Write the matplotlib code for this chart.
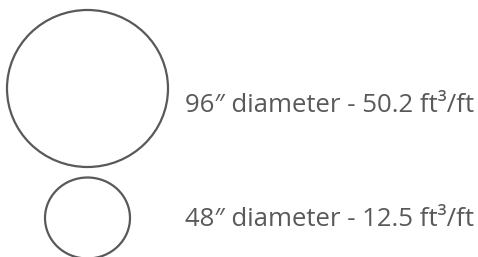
import matplotlib
matplotlib.use("Agg")
import matplotlib.pyplot as plt
from matplotlib.patches import Ellipse

diameters_in = [96, 48]
volumes_ft3_per_ft = [50.2, 12.5]

# layout (pixels)
centers = [(87.5, 88.5), (87.5, 218.0)]
sizes = [(161, 157), (85, 81)]
text_x = 185
baselines = [111.5, 226.5]

fig = plt.figure(figsize=(4.78, 2.57), dpi=100)
ax = fig.add_axes([0, 0, 1, 1])
ax.set_xlim(0, 478)
ax.set_ylim(257, 0)
ax.axis("off")

col = "#58595b"
for d, v, c, s, b in zip(diameters_in, volumes_ft3_per_ft, centers, sizes, baselines):
    ax.add_patch(Ellipse(c, s[0], s[1], fill=False, edgecolor=col, linewidth=1.6))
    ax.text(text_x, b, f"{d}\u2033 diameter - {v} ft\u00b3/ft", fontsize=18.5,
            family=["Open Sans", "DejaVu Sans"], color=col, va="baseline", ha="left")

fig.savefig("out.png", dpi=100)
